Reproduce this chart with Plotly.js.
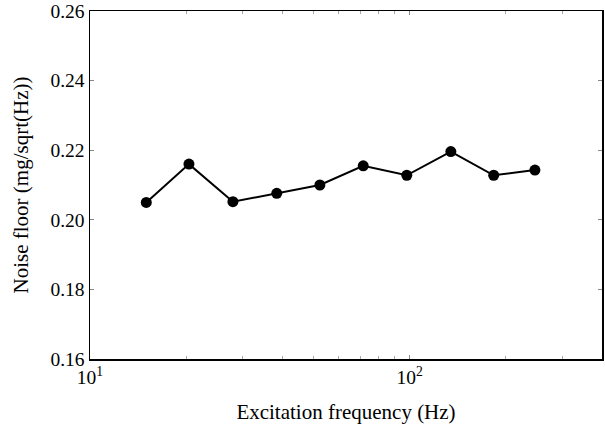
<!DOCTYPE html>
<html>
<head>
<meta charset="utf-8">
<script src="https://cdn.plot.ly/plotly-3.0.1.min.js"></script>
<style>html,body{margin:0;padding:0;background:#fff;}#chart{width:605px;height:427px;}</style>
</head>
<body>
<div id="chart"></div>
<script>
const frequencyHz = [15, 20.4, 28, 38.4, 52.4, 71.6, 98, 134.6, 183.3, 246.7];
const noiseFloor = [0.205, 0.216, 0.2052, 0.2076, 0.2100, 0.2155, 0.2128, 0.2196, 0.2128, 0.2143];
const xTickVals = [10, 100];
const xTickText = ['10<sup>1</sup>', '10<sup>2</sup>'];
const yTickVals = [0.16, 0.18, 0.20, 0.22, 0.24, 0.26];
const yTickText = ['0.16', '0.18', '0.20', '0.22', '0.24', '0.26'];

const trace = {
  x: frequencyHz, y: noiseFloor, type: 'scatter', mode: 'lines+markers',
  line: {color: '#000', width: 2},
  marker: {color: '#000', size: 11},
  showlegend: false
};
const font = {family: '"Liberation Serif", "Times New Roman", serif', color: '#000'};
const layout = {
  width: 605, height: 427,
  margin: {l: 90, r: 3, t: 11, b: 68},
  paper_bgcolor: '#fff', plot_bgcolor: '#fff',
  font: Object.assign({size: 19.5}, font),
  xaxis: {
    type: 'log', range: [1, Math.log10(400)],
    tickvals: xTickVals, ticktext: xTickText,
    ticks: 'inside', ticklen: 4, tickcolor: '#888',
    minor: {ticks: 'inside', ticklen: 3, tickcolor: '#aaa', tickvals: [20,30,40,50,60,70,80,90,200,300]},
    showgrid: false, zeroline: false,
    showline: true, linecolor: '#000', linewidth: 1.5, mirror: 'ticks',
    tickfont: Object.assign({size: 19.5}, font),
    automargin: 'bottom',
    title: {text: 'Excitation frequency (Hz)', font: Object.assign({size: 21}, font), standoff: 17}
  },
  yaxis: {
    range: [0.16, 0.26],
    tickvals: yTickVals, ticktext: yTickText,
    ticks: 'inside', ticklen: 4, tickcolor: '#888',
    showgrid: false, zeroline: false,
    showline: true, linecolor: '#000', linewidth: 1.5, mirror: 'ticks',
    tickfont: Object.assign({size: 19.5}, font),
    automargin: 'left',
    title: {text: 'Noise floor (mg/sqrt(Hz))', font: Object.assign({size: 21}, font), standoff: 16}
  }
};
Plotly.newPlot('chart', [trace], layout, {displayModeBar: false, staticPlot: true});
</script>
</body>
</html>
